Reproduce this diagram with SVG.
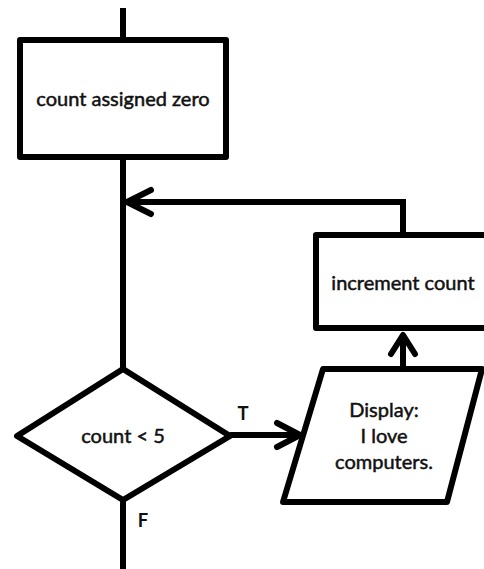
<svg xmlns="http://www.w3.org/2000/svg" width="484" height="569" viewBox="0 0 484 569">
<style>
.shape{fill:#fff;stroke:#000;stroke-width:6;stroke-linejoin:round}
.line{fill:none;stroke:#000;stroke-width:6;stroke-linejoin:miter}
.head{fill:none;stroke:#000;stroke-width:6;stroke-linecap:round;stroke-linejoin:round}
.t{font-family:Lato,"Liberation Sans",sans-serif;font-size:20px;fill:#111;stroke:#111;stroke-width:0.5;text-anchor:middle}
.lbl{font-family:Lato,"Liberation Sans",sans-serif;font-size:18.5px;font-weight:bold;fill:#111;text-anchor:middle}
</style>
<rect width="484" height="569" fill="#fff"/>
<g id="connectors">
<line class="line" x1="123" y1="8" x2="123" y2="40"/>
<line class="line" x1="123" y1="157" x2="123" y2="369"/>
<polyline class="line" points="403,235 403,202 127,202"/>
<polyline class="head" points="151,190 127,202 151,214"/>
<line class="line" x1="403" y1="369" x2="403" y2="335"/>
<polyline class="head" points="391,354 403,335 415,354"/>
<line class="line" x1="230" y1="435" x2="300" y2="435"/>
<polyline class="head" points="277,423 300,435 277,447"/>
<line class="line" x1="123" y1="500" x2="123" y2="569"/>
<text class="lbl" x="243" y="420">T</text>
<text class="lbl" x="143" y="527">F</text>
</g>
<g id="init">
<rect class="shape" x="20" y="40" width="206" height="117"/>
<text class="t" x="123" y="106">count assigned zero</text>
</g>
<g id="increment">
<rect class="shape" x="316" y="235" width="180" height="93"/>
<text class="t" x="403" y="290">increment count</text>
</g>
<g id="decision">
<polygon class="shape" points="123,369 230,436 123,500 17,436"/>
<text class="t" x="123" y="443">count &lt; 5</text>
</g>
<g id="display">
<polygon class="shape" points="323,369 482,369 447,502 283,502"/>
<text class="t" x="384" y="417">Display:</text>
<text class="t" x="384" y="443">I love</text>
<text class="t" x="384" y="469">computers.</text>
</g>
</svg>
